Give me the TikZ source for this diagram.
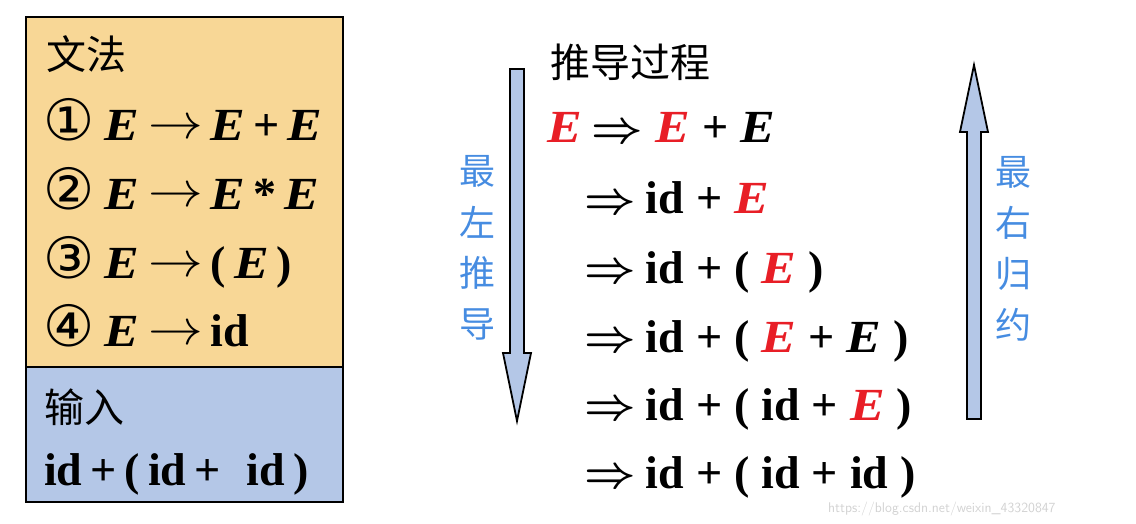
\documentclass[tikz,border=0pt]{standalone}
\usepackage{graphicx}
\usepackage{fontspec}
\setmainfont{Liberation Serif}
\newfontfamily\cjk{Noto Sans CJK SC}[BoldFont={Noto Sans CJK SC Bold}]
\newfontfamily\symf{DejaVu Sans}
\definecolor{boxorange}{RGB}{248,215,150}
\definecolor{boxblue}{RGB}{180,199,231}
\definecolor{txtblue}{RGB}{70,140,225}
\definecolor{ered}{RGB}{232,30,38}
\newcommand\vE{\scalebox{1.13}[1]{\textbf{\textit{E}}}}
\newcommand\rE{\textcolor{ered}{\vE}}
\newcommand\cnum[1]{{\symf\mdseries\fontsize{57}{60}\selectfont #1}}
\newcommand\gp{\hspace{12pt}}
\newcommand\gq{\hspace{8pt}}
\newcommand\ra{\raisebox{2pt}{\scalebox{2.2}[2.0]{$\rightarrow$}}}
\newcommand\Ra{\raisebox{1pt}{\scalebox{1.8}[1.8]{\boldmath$\Rightarrow$}}}
\tikzset{
  big/.style={anchor=base west, inner sep=0pt, font=\fontsize{46}{50}\selectfont\bfseries},
  cjkhead/.style={anchor=base west, inner sep=0pt, font=\cjk\fontsize{40}{44}\selectfont},
  bluechar/.style={inner sep=0pt, text=txtblue, font=\cjk\fontsize{36}{40}\selectfont},
  fatarrow/.style={draw=black, line width=1.8pt, fill=boxblue, line join=miter},
  panel/.style={draw=black, line width=1.5pt}
}
\begin{document}
\begin{tikzpicture}[x=1pt,y=-1pt]
\useasboundingbox (0,0) rectangle (1136,524);
% panels
\path[panel, fill=boxorange] (26,17) rectangle (343,367);
\path[panel, fill=boxblue] (26,367) rectangle (343,502);
\node[cjkhead] (gtitle) at (46,70) {文法};
\node[big] (g1) at (43,141) {\cnum{①}\hspace{10pt}\vE\hspace{10pt}\ra\hspace{7pt}\vE\gq+\gq\vE};
\node[big] (g2) at (43,209) {\cnum{②}\hspace{10pt}\vE\hspace{10pt}\ra\hspace{7pt}\vE\gq*\gq\vE};
\node[big] (g3) at (43,278) {\cnum{③}\hspace{10pt}\vE\hspace{10pt}\ra\hspace{7pt}(\gq\vE\gq)};
\node[big] (g4) at (43,346) {\cnum{④}\hspace{10pt}\vE\hspace{10pt}\ra\hspace{7pt}id};
\node[cjkhead] (itile) at (44,422) {输入};
\node[big] (inp) at (44,485) {id\hspace{8pt}+\hspace{8pt}(\hspace{8pt}id\hspace{8pt}+\hspace{26pt}id\hspace{8pt})};
% derivation
\node[cjkhead] (dtitle) at (550,78) {推导过程};
\node[big] (d1) at (547,143) {\rE\hspace{10pt}\Ra\hspace{12pt}\rE\gp+\gp\vE};
\node[big] (d2) at (584,214) {\Ra\hspace{10pt}id\gp+\gp\rE};
\node[big] (d3) at (584,283) {\Ra\hspace{10pt}id\gp+\gp(\gp\rE\gp)};
\node[big] (d4) at (584,352) {\Ra\hspace{10pt}id\gp+\gp(\gp\rE\gp+\gp\vE\gp)};
\node[big] (d5) at (584,420) {\Ra\hspace{10pt}id\gp+\gp(\gp id\gp+\gp\rE\gp)};
\node[big] (d6) at (584,488) {\Ra\hspace{10pt}id\gp+\gp(\gp id\gp+\gp id\gp)};
% left arrow (down)
\path[fatarrow] (510,69) -- (524,69) -- (524,353) -- (531,353) -- (517,421) -- (503,353) -- (510,353) -- cycle;
% right arrow (up)
\path[fatarrow] (967,419) -- (981,419) -- (981,132) -- (988,132) -- (974,65) -- (960,132) -- (967,132) -- cycle;
% vertical labels
\node[bluechar] (l1) at (477,171) {最};
\node[bluechar] (l2) at (477,222) {左};
\node[bluechar] (l3) at (477,273) {推};
\node[bluechar] (l4) at (477,324) {导};
\node[bluechar] (r1) at (1013,172) {最};
\node[bluechar] (r2) at (1013,223) {右};
\node[bluechar] (r3) at (1013,274) {归};
\node[bluechar] (r4) at (1013,325) {约};
% watermark
\node[anchor=base west, inner sep=0pt, text=gray!35, font=\sffamily\fontsize{14}{16}\selectfont] (wm) at (828,512) {https://blog.csdn.net/weixin\_43320847};
\end{tikzpicture}
\end{document}
